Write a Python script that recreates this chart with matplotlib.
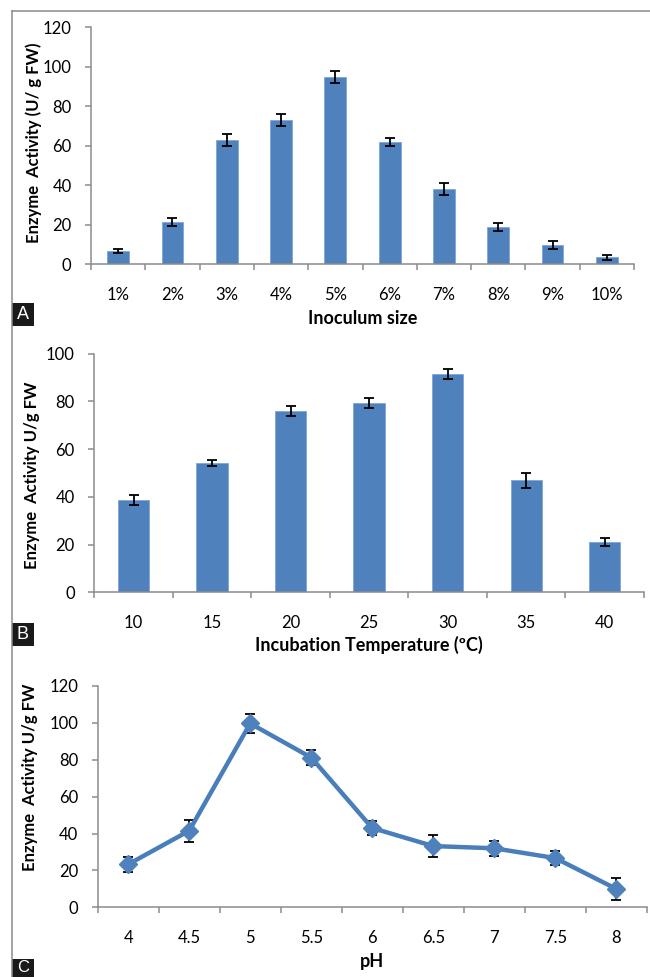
import matplotlib
matplotlib.use("Agg")
import matplotlib.pyplot as plt
from matplotlib.lines import Line2D
from matplotlib.patches import Rectangle
import numpy as np

plt.rcParams['font.family'] = ['Lato', 'DejaVu Sans']

# ---- data ----
inoc_labels = ["1%", "2%", "3%", "4%", "5%", "6%", "7%", "8%", "9%", "10%"]
inoc_vals = [6.7, 21.5, 62.8, 72.8, 94.6, 62.0, 38.2, 18.8, 9.7, 3.5]
inoc_err = [1.1, 2.0, 3.0, 3.0, 3.0, 2.0, 3.0, 2.0, 2.2, 1.2]

temp_labels = ["10", "15", "20", "25", "30", "35", "40"]
temp_vals = [38.6, 54.2, 76.0, 79.5, 91.6, 47.0, 21.0]
temp_err = [2.2, 1.1, 2.1, 2.1, 2.1, 3.1, 1.6]

ph_labels = ["4", "4.5", "5", "5.5", "6", "6.5", "7", "7.5", "8"]
ph_vals = [23.3, 41.5, 99.7, 81.2, 43.0, 33.2, 32.0, 26.7, 10.0]
ph_err = [4.0, 6.0, 5.2, 4.0, 4.0, 6.0, 4.2, 4.0, 6.0]

W, H = 650, 977
fig = plt.figure(figsize=(W / 100, H / 100), dpi=100)

BLUE = "#4F81BD"
SPINE = "#8C8C8C"
TICKFS = 12
XLABFS = 13
YLABFS = 12


def px_axes(left, right, top, bottom):
    return fig.add_axes([left / W, 1 - bottom / H, (right - left) / W, (bottom - top) / H])


def style(ax, n, ymax, ystep, labels):
    ax.set_xlim(-0.5, n - 0.5)
    ax.set_ylim(0, ymax)
    ax.set_yticks(np.arange(0, ymax + 0.1, ystep))
    for s in ["top", "right"]:
        ax.spines[s].set_visible(False)
    for s in ["left", "bottom"]:
        ax.spines[s].set_color(SPINE)
        ax.spines[s].set_linewidth(1.1)
    ax.set_xticks(np.arange(n))
    ax.set_xticklabels(labels)
    ax.set_xticks(np.arange(n + 1) - 0.5, minor=True)
    ax.tick_params(axis="x", which="major", length=0, pad=16, labelsize=TICKFS, colors="black")
    ax.tick_params(axis="x", which="minor", length=4.5, width=1.1, color=SPINE, direction="out")
    ax.tick_params(axis="y", which="major", length=4, width=1.1, color=SPINE, pad=10,
                   labelsize=TICKFS, labelcolor="black")
    ax.patch.set_alpha(0)


# ---- Panel A ----
axA = px_axes(91, 634, 27, 264.3)
xA = np.arange(len(inoc_vals))
axA.bar(xA, inoc_vals, width=0.4, color=BLUE, edgecolor="#7FA6D6", linewidth=0.6, zorder=2)
axA.errorbar(xA, inoc_vals, yerr=inoc_err, fmt="none", ecolor="black", elinewidth=1.3,
             capsize=3.5, capthick=1.3, zorder=3)
style(axA, len(inoc_vals), 120, 20, inoc_labels)

# ---- Panel B ----
axB = px_axes(94.3, 644, 353.7, 592.3)
xB = np.arange(len(temp_vals))
axB.bar(xB, temp_vals, width=0.4, color=BLUE, edgecolor="#7FA6D6", linewidth=0.6, zorder=2)
axB.errorbar(xB, temp_vals, yerr=temp_err, fmt="none", ecolor="black", elinewidth=1.3,
             capsize=3.5, capthick=1.3, zorder=3)
style(axB, len(temp_vals), 100, 20, temp_labels)

# ---- Panel C ----
axC = px_axes(97.7, 646.7, 686, 907.3)
xC = np.arange(len(ph_vals))
axC.errorbar(xC, ph_vals, yerr=ph_err, fmt="none", ecolor="black", elinewidth=1.3,
             capsize=3.5, capthick=1.3, zorder=2)
axC.plot(xC, ph_vals, color="#4A7EBB", linewidth=3.2, marker="D", markersize=9,
         markerfacecolor=BLUE, markeredgecolor=BLUE, zorder=3)
style(axC, len(ph_vals), 120, 20, ph_labels)

# ---- axis labels (figure text, pixel positions) ----
def ftext(x, y, s, **kw):
    fig.text(x / W, 1 - y / H, s, **kw)

ftext(362.5, 319, "Inoculum size", ha="center", va="center", fontsize=XLABFS, fontweight="bold")
ftext(369, 645, "Incubation Temperature (\u00baC)", ha="center", va="center", fontsize=XLABFS, fontweight="bold")
ftext(372, 962, "pH", ha="center", va="center", fontsize=XLABFS, fontweight="bold")

ftext(34, 143, "Enzyme  Activity (U/ g FW)", ha="center", va="center", rotation=90,
      fontsize=YLABFS, fontweight="bold")
ftext(32, 475, "Enzyme  Activity U/g FW", ha="center", va="center", rotation=90,
      fontsize=YLABFS, fontweight="bold")
ftext(30, 777, "Enzyme  Activity U/g FW", ha="center", va="center", rotation=90,
      fontsize=YLABFS, fontweight="bold")

# ---- frame lines ----
FRAME = "#8A8A8A"
fig.add_artist(Line2D([12 / W, 1.0], [1 - 11 / H, 1 - 11 / H], transform=fig.transFigure,
                      color=FRAME, linewidth=1.1))
fig.add_artist(Line2D([12 / W, 12 / W], [1 - 11 / H, 0.0], transform=fig.transFigure,
                      color=FRAME, linewidth=1.1))

# ---- panel letter boxes ----
for letter, top, bot, cy, fs in [("A", 303, 326, 314.5, 13), ("B", 623, 646, 634.5, 13),
                                 ("C", 959, 977, 968, 12)]:
    fig.add_artist(Rectangle((11.7 / W, 1 - bot / H), (34 - 11.7) / W, (bot - top) / H,
                             transform=fig.transFigure, facecolor="#1a1a1a", edgecolor="none"))
    fig.text(22.8 / W, 1 - cy / H, letter, ha="center", va="center", color="white",
             fontsize=fs, family=["Liberation Sans", "DejaVu Sans"])

fig.savefig("out.png", dpi=100, facecolor="white")
